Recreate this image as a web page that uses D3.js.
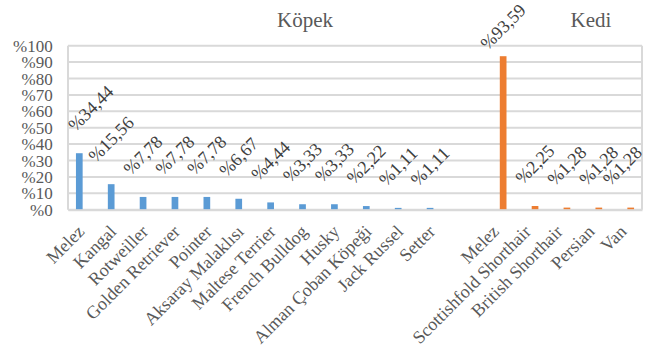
<!DOCTYPE html>
<html><head><meta charset="utf-8">
<script src="https://cdn.jsdelivr.net/npm/d3@7"></script>
<style>body{margin:0;background:#fff}svg{display:block}</style>
</head><body>
<svg id="c" width="646" height="360"></svg>
<script>
const dogBreeds = ["Melez","Kangal","Rotweiller","Golden Retriever","Pointer","Aksaray Malaklısı","Maltese Terrier","French Bulldog","Husky","Alman Çoban Köpeği","Jack Russel","Setter"];
const dogValues = [34.44,15.56,7.78,7.78,7.78,6.67,4.44,3.33,3.33,2.22,1.11,1.11];
const catBreeds = ["Melez","Scottishfold Shorthair","British Shorthair","Persian","Van"];
const catValues = [93.59,2.25,1.28,1.28,1.28];
const yTicks = [0,10,20,30,40,50,60,70,80,90,100];
const seriesNames = ["Köpek","Kedi"];
const colors = {"Köpek":"#5B9BD5","Kedi":"#ED7D31"};

(function(){
const FONT = "'Liberation Serif', 'DejaVu Serif', serif";
const cats = [];
dogBreeds.forEach((b,i)=>cats.push({label:b, series:"Köpek", value:dogValues[i]}));
cats.push({label:"", series:null, value:null});
catBreeds.forEach((b,i)=>cats.push({label:b, series:"Kedi", value:catValues[i]}));

const svg = d3.select("#c").attr("font-family",FONT);
const pL = 68, pR = 642, pT = 45.7, pB = 209.7;
const x = d3.scaleBand().domain(d3.range(cats.length)).range([pL,pR]).padding(0);
const xs = d3.scaleBand().domain(seriesNames).range([0,x.bandwidth()]).paddingInner(0.28).paddingOuter(0.855);
const y = d3.scaleLinear().domain([0,100]).range([pB,pT]);
const grey = "#d9d9d9", txt = "#595959";

svg.append("g").selectAll("line").data(yTicks).join("line")
  .attr("x1",pL).attr("x2",pR).attr("y1",d=>y(d)).attr("y2",d=>y(d))
  .attr("stroke",grey).attr("stroke-width",2);
svg.append("line").attr("x1",pL).attr("x2",pL).attr("y1",pT).attr("y2",pB).attr("stroke",grey).attr("stroke-width",2);
svg.append("line").attr("x1",pR).attr("x2",pR).attr("y1",pT).attr("y2",pB).attr("stroke",grey).attr("stroke-width",2);

const yAxis = d3.axisLeft(y).tickValues(yTicks).tickSize(0).tickPadding(0).tickFormat(d=>"%"+d);
const ya = svg.append("g").attr("transform",`translate(52.7,0)`).call(yAxis).attr("font-family",FONT);
ya.select(".domain").remove();
ya.selectAll("text").attr("font-size","17px").attr("fill",txt).attr("dy","0.33em");

const data = cats.map((c,i)=>({...c, i})).filter(c=>c.series);
svg.append("g").selectAll("rect").data(data).join("rect")
  .attr("x",d=>x(d.i)+xs(d.series)).attr("width",xs.bandwidth())
  .attr("y",d=>y(d.value)).attr("height",d=>y(0)-y(d.value))
  .attr("fill",d=>colors[d.series]);

const xAxis = d3.axisBottom(x).tickSize(0).tickPadding(0).tickFormat(i=>cats[i].label);
const xa = svg.append("g").attr("transform",`translate(0,${pB})`).call(xAxis).attr("font-family",FONT);
xa.select(".domain").attr("stroke",grey).attr("stroke-width",2);
xa.selectAll("text").attr("font-size","18px").attr("fill",txt)
  .attr("text-anchor","end").attr("dy",0).attr("y",0)
  .attr("transform","translate(1.5,23) rotate(-45)");

const fmt = v => "%" + v.toFixed(2).replace(".", ",");
const lg = svg.append("g");
const fs = 18;
data.forEach(d=>{
  const t = lg.append("text").attr("font-size",fs+"px").attr("fill","#404040")
    .attr("text-anchor","middle").attr("dy","0.33em").text(fmt(d.value));
  const L = t.node().getComputedTextLength();
  const capH = 0.66*fs;
  const box = (L+capH)*Math.SQRT1_2;
  let cx = x(d.i)+xs(d.series)+xs.bandwidth()/2;
  let cy = y(d.value) - 21 - box/2;
  cx = Math.max(cx, 67 + box/2);
  cx = Math.min(cx, 643 - box/2);
  cy = Math.max(cy, 3 + box/2);
  t.attr("transform",`translate(${cx},${cy}) rotate(-45)`);
});

svg.append("text").attr("x",305).attr("y",27.3).attr("text-anchor","middle").attr("font-size","21px").attr("fill",txt).text(seriesNames[0]);
svg.append("text").attr("x",591).attr("y",27.3).attr("text-anchor","middle").attr("font-size","21px").attr("fill",txt).text(seriesNames[1]);
})();
</script>
</body></html>
